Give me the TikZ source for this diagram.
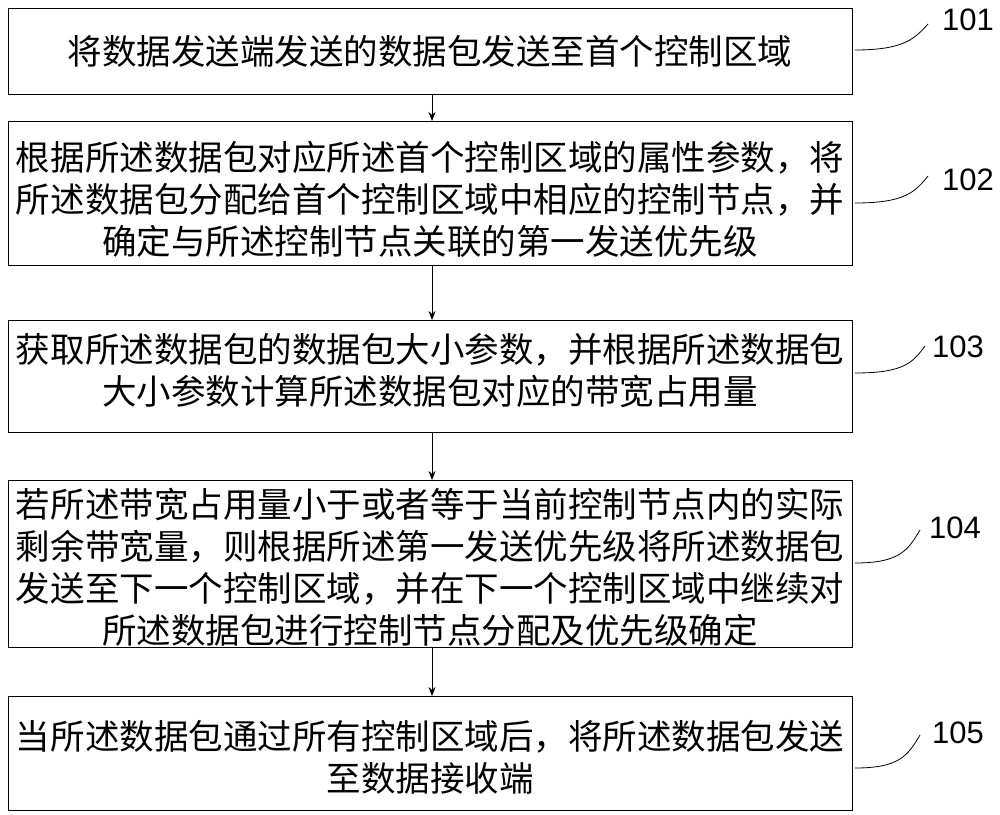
\documentclass[tikz,border=0pt]{standalone}
\usepackage{fontspec}
\usetikzlibrary{arrows.meta}
\newfontfamily\cjk{Noto Sans CJK SC}
\setmainfont{Liberation Sans}
\begin{document}
\begin{tikzpicture}[x=1pt,y=-1pt,
  stepbox/.style={draw,line width=0.8pt},
  txt/.style={font=\cjk\fontsize{34.5}{42}\selectfont,align=center,inner sep=0},
  lab/.style={font=\fontsize{31}{31}\selectfont,inner sep=0},
  arr/.style={-{Stealth[length=9pt,width=7pt]},line width=0.8pt}]
\useasboundingbox (0,0) rectangle (1000,814);
\draw[stepbox] (8,8) rectangle (852,94); \coordinate (b1t) at (432,8); \coordinate (b1b) at (432,94);
\draw[stepbox] (8,121) rectangle (852,265); \coordinate (b2t) at (432,121); \coordinate (b2b) at (432,265);
\draw[stepbox] (8,320) rectangle (852,432); \coordinate (b3t) at (432,320); \coordinate (b3b) at (432,432);
\draw[stepbox] (8,480) rectangle (852,647); \coordinate (b4t) at (432,480); \coordinate (b4b) at (432,647);
\draw[stepbox] (8,696) rectangle (852,810); \coordinate (b5t) at (432,696);
\node[txt] (t1) at (430,51) {将数据发送端发送的数据包发送至首个控制区域};
\node[txt] (t2) at (430,199) {根据所述数据包对应所述首个控制区域的属性参数，将\\所述数据包分配给首个控制区域中相应的控制节点，并\\确定与所述控制节点关联的第一发送优先级};
\node[txt] (t3) at (430,371) {获取所述数据包的数据包大小参数，并根据所述数据包\\大小参数计算所述数据包对应的带宽占用量};
\node[txt] (t4) at (430,567) {若所述带宽占用量小于或者等于当前控制节点内的实际\\剩余带宽量，则根据所述第一发送优先级将所述数据包\\发送至下一个控制区域，并在下一个控制区域中继续对\\所述数据包进行控制节点分配及优先级确定};
\node[txt] (t5) at (430,757) {当所述数据包通过所有控制区域后，将所述数据包发送\\至数据接收端};
\draw[arr] (b1b) -- (b2t);
\draw[arr] (b2b) -- (b3t);
\draw[arr] (b3b) -- (b4t);
\draw[arr] (b4b) -- (b5t);
\node[lab] (l1) at (968,20) {101};
\node[lab] (l2) at (968,180) {102};
\node[lab] (l3) at (958,347) {103};
\node[lab] (l4) at (955,528) {104};
\node[lab] (l5) at (958,733) {105};
\draw[line width=0.8pt] (855,50) .. controls (905,50) and (915,38) .. (928,24);
\draw[line width=0.8pt] (855,203) .. controls (905,203) and (915,192) .. (928,176);
\draw[line width=0.8pt] (855,373) .. controls (905,373) and (913,362) .. (925,346);
\draw[line width=0.8pt] (855,563) .. controls (900,563) and (908,550) .. (920,530);
\draw[line width=0.8pt] (855,768) .. controls (900,768) and (908,755) .. (920,735);
\end{tikzpicture}
\end{document}
